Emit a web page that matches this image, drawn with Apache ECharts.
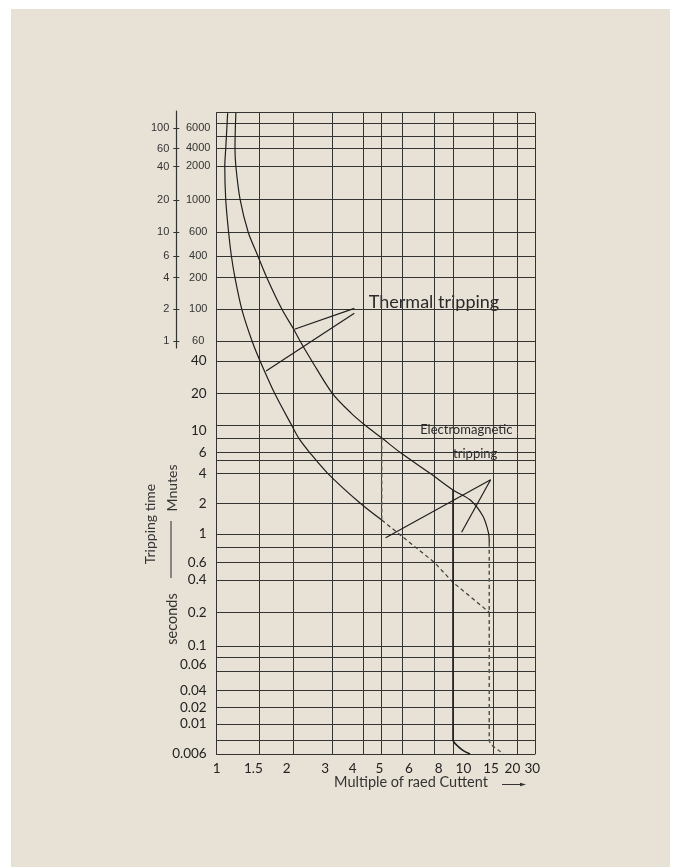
<!DOCTYPE html>
<html><head><meta charset="utf-8">
<script src="https://cdn.jsdelivr.net/npm/echarts@6.0.0/dist/echarts.min.js"></script>
<style>
html,body{margin:0;padding:0;background:#ffffff;}
#panel{position:absolute;left:11px;top:9px;width:659px;height:858px;background:#e8e2d6;}
#chart{position:absolute;left:0;top:0;width:674px;height:867px;}
</style></head><body>
<div id="panel"></div><div id="chart"></div>
<script>
// ================= DATA =================
// tick labels
const xTickLabels = [1, 1.5, 2, 3, 4, 5, 6, 8, 10, 15, 20, 30];          // multiple of rated current
const yMinuteLabels = [100, 60, 40, 20, 10, 6, 4, 2, 1];                  // minutes column
const yUpperSecLabels = [6000, 4000, 2000, 1000, 600, 400, 200, 100, 60]; // seconds column (upper)
const yLowerSecLabels = [40, 20, 10, 6, 4, 2, 1, 0.6, 0.4, 0.2, 0.1, 0.06, 0.04, 0.02, 0.01, 0.006];

// curves: [multiple of rated current, tripping time in seconds]
const thermalLow = [[1.11, 8000], [1.09, 4000], [1.08, 2000], [1.09, 1000], [1.12, 600], [1.15, 400],
  [1.19, 200], [1.27, 100], [1.40, 60], [1.51, 40], [1.71, 20], [1.98, 11], [2.13, 8.28],
  [2.37, 6], [2.86, 4], [3.89, 2], [5.0, 1.37]];
const thermalLowDashed = [[5.0, 1.37], [8, 0.6], [10, 0.38], [14.4, 0.2]];
const thermalHigh = [[1.20, 8000], [1.19, 4000], [1.20, 2000], [1.25, 1000], [1.35, 600], [1.48, 400],
  [1.60, 200], [1.82, 100], [2.02, 72], [2.15, 60], [2.43, 40], [3.0, 20], [3.58, 13.8], [4.11, 11],
  [5.04, 8.3], [5.89, 6], [7.7, 4], [10, 2.72], [11.9, 2.16], [13.5, 1.5], [14.3, 1.02], [14.4, 0.85]];
const magLimit5Dashed = [[5, 8.3], [5, 1.37]];
const magHigh15Dashed = [[14.4, 0.85], [14.4, 0.0076], [14.76, 0.007], [15.9, 0.00642], [16.9, 0.006]];
const magLow10 = [[10, 2.72], [10, 0.0076], [10.55, 0.0068], [11.09, 0.00635], [11.87, 0.006]];

// leader lines of the annotations
const leaderThermalA = [[3.68, 102], [2.03, 72.5]];
const leaderThermalB = [[3.68, 94], [1.59, 32.3]];
const leaderMagA = [[14.6, 3.45], [5.18, 0.935]];
const leaderMagB = [[14.6, 3.45], [10.9, 1.04]];

// ================= SCALE of the printed paper (layout) =================
// the paper is ruled with a distorted log scale: value -> position (0..1000 along the axis)
const xKnots = [[1, 0], [1.5, 133.8], [2, 239.7], [3, 363.2], [4, 460.6], [5, 518.4], [6, 582.2],
  [8, 683.6], [10, 742.4], [15, 869.0], [20, 945.6], [30, 1000]];
const yKnots = [[0.006, 0], [0.01, 46.8], [0.02, 72.8], [0.04, 98.7], [0.06, 138.8], [0.1, 168.4],
  [0.2, 221.0], [0.4, 271.3], [0.6, 298.9], [1, 343.1], [2, 390.9], [4, 437.7], [6, 470.5],
  [10, 504.1], [20, 562.4], [40, 612.8], [60, 644.0], [100, 693.4], [200, 742.7], [400, 776.6],
  [600, 813.5], [1000, 864.3], [2000, 916.4], [4000, 944.5], [6000, 976.6]];
const xLabelPaper = [0, 115, 220, 341, 427, 511, 604, 697, 775, 862, 929, 991.5];
const yRulePaper = [1000, 983.5, 963.7, 944.5, 916.4, 864.3, 813.5, 776.6, 742.7, 693.4, 644.0, 612.8,
  562.4, 512.6, 491.7, 470.5, 457.4, 437.7, 390.9, 343.1, 321.7, 298.9, 271.3, 221.0, 168.4, 150.8,
  128.3, 98.7, 72.8, 46.8, 20.7, 0];

function makeScale(knots) {
  const k = knots.map(([v, p]) => [Math.log10(v), p]);
  return function (v) {
    const l = Math.log10(v);
    let i = 0;
    while (i < k.length - 2 && l > k[i + 1][0]) i++;
    const [l0, p0] = k[i], [l1, p1] = k[i + 1];
    return p0 + (l - l0) / (l1 - l0) * (p1 - p0);
  };
}
const toX = makeScale(xKnots);
const toY = makeScale(yKnots);
const xRulePaper = xKnots.map(k => k[1]);
const conv = arr => arr.map(([x, y]) => [toX(x), toY(y)]);
const near = (a, b) => Math.abs(a - b) < 1e-6;

const INK = '#1e1e1e';
const RULE = '#333333';
const FONT = 'Lato';

function lineSeries(data, opts) {
  return Object.assign({
    type: 'line', xAxisIndex: 0, yAxisIndex: 0, data: conv(data), showSymbol: false, symbol: 'none',
    silent: true, animation: false, smooth: false,
    lineStyle: { color: INK, width: 1.2 }
  }, opts || {});
}

const upperPos = yUpperSecLabels.map(toY);
const lowerPos = yLowerSecLabels.map(toY);

const chart = echarts.init(document.getElementById('chart'), null, { renderer: 'canvas' });
chart.setOption({
  backgroundColor: 'transparent',
  animation: false,
  grid: [
    { left: 216.7, top: 112.7, width: 318.3, height: 641.3, containLabel: false },
    { left: 176.3, top: 111, width: 10, height: 237, containLabel: false }
  ],
  xAxis: [
    {
      type: 'value', gridIndex: 0, min: 0, max: 1000,
      axisLine: { show: true, lineStyle: { color: RULE, width: 1 } },
      axisTick: { show: false, customValues: xRulePaper },
      splitLine: { show: true, lineStyle: { color: RULE, width: 1 } },
      axisLabel: {
        customValues: xLabelPaper, margin: 8, color: '#222', fontFamily: FONT, fontSize: 13.5,
        formatter: v => { const i = xLabelPaper.findIndex(p => near(p, v)); return i >= 0 ? String(xTickLabels[i]) : ''; }
      }
    },
    { type: 'value', gridIndex: 1, min: 0, max: 1, show: false }
  ],
  yAxis: [
    {
      type: 'value', gridIndex: 0, min: 0, max: 1000, position: 'left',
      axisLine: { show: true, lineStyle: { color: RULE, width: 1 } },
      axisTick: { show: false, customValues: yRulePaper },
      splitLine: { show: true, lineStyle: { color: RULE, width: 1 } },
      axisLabel: {
        customValues: lowerPos, margin: 10, color: '#222', fontFamily: FONT, fontSize: 13.5,
        formatter: v => { const i = lowerPos.findIndex(p => near(p, v)); return i >= 0 ? String(yLowerSecLabels[i]) : ''; }
      }
    },
    {
      type: 'value', gridIndex: 0, min: 0, max: 1000, position: 'left', offset: 0,
      axisLine: { show: false }, axisTick: { show: false }, splitLine: { show: false },
      axisLabel: {
        customValues: upperPos, margin: 18.5, align: 'center', color: '#333',
        fontFamily: 'Liberation Sans', fontSize: 11,
        formatter: v => { const i = upperPos.findIndex(p => near(p, v)); return i >= 0 ? String(yUpperSecLabels[i]) : ''; }
      }
    },
    {
      type: 'value', gridIndex: 1, min: 633, max: 1003, position: 'left',
      axisLine: { show: true, lineStyle: { color: RULE, width: 1.2 } },
      axisTick: { show: true, customValues: upperPos, length: 3, lineStyle: { color: RULE, width: 1 } },
      splitLine: { show: false },
      axisLabel: {
        customValues: upperPos, margin: 7, color: '#333', fontFamily: 'Liberation Sans', fontSize: 11,
        formatter: v => { const i = upperPos.findIndex(p => near(p, v)); return i >= 0 ? String(yMinuteLabels[i]) : ''; }
      }
    },
    {
      type: 'value', gridIndex: 1, min: 633, max: 1003, position: 'left',
      axisLine: { show: false },
      axisTick: { show: true, inside: true, customValues: upperPos, length: 3, lineStyle: { color: RULE, width: 1 } },
      splitLine: { show: false }, axisLabel: { show: false }
    }
  ],
  series: [
    lineSeries(thermalLow, { smooth: 0.3 }),
    lineSeries(thermalHigh, { smooth: 0.3 }),
    lineSeries(thermalLowDashed, { lineStyle: { color: '#3a3a3a', width: 1.2, type: [4, 3] } }),
    lineSeries(magLimit5Dashed, { lineStyle: { color: '#555', width: 1.5, type: [4, 3] } }),
    lineSeries(magHigh15Dashed, { smooth: 0.3, lineStyle: { color: '#555', width: 1.5, type: [4, 3] } }),
    lineSeries(magLow10, { smooth: 0.3, lineStyle: { color: INK, width: 1.6 } }),
    lineSeries(leaderThermalA),
    lineSeries(leaderThermalB),
    lineSeries(leaderMagA),
    lineSeries(leaderMagB)
  ],
  graphic: [
    { type: 'text', x: 150, y: 524, rotation: Math.PI / 2,
      style: { text: 'Tripping time', fontFamily: FONT, fontSize: 14, fill: '#333', align: 'center', verticalAlign: 'middle' } },
    { type: 'text', x: 172, y: 488, rotation: Math.PI / 2,
      style: { text: 'Mnutes', fontFamily: FONT, fontSize: 14, fill: '#333', align: 'center', verticalAlign: 'middle' } },
    { type: 'line', shape: { x1: 171, y1: 521, x2: 171, y2: 578 }, style: { stroke: '#666', lineWidth: 1.5 } },
    { type: 'text', x: 172, y: 619, rotation: Math.PI / 2,
      style: { text: 'seconds', fontFamily: FONT, fontSize: 14.5, fill: '#333', align: 'center', verticalAlign: 'middle' } },
    { type: 'text', x: 411, y: 782.5,
      style: { text: 'Multiple of raed Cuttent', fontFamily: FONT, fontSize: 14.5, fill: '#333', align: 'center', verticalAlign: 'middle' } },
    { type: 'line', shape: { x1: 502, y1: 784.5, x2: 523, y2: 784.5 }, style: { stroke: '#333', lineWidth: 1 } },
    { type: 'polygon', shape: { points: [[520, 782.7], [526, 784.5], [520, 786.3]] }, style: { fill: '#333' } },
    { type: 'text', x: 434, y: 302,
      style: { text: 'Thermal tripping', fontFamily: FONT, fontSize: 18, fill: '#2a2a2a', align: 'center', verticalAlign: 'middle' } },
    { type: 'text', x: 466.3, y: 430,
      style: { text: 'Electromagnetic', fontFamily: FONT, fontSize: 13, fill: '#2a2a2a', align: 'center', verticalAlign: 'middle' } },
    { type: 'text', x: 475.2, y: 454.3,
      style: { text: 'tripping', fontFamily: FONT, fontSize: 13, fill: '#2a2a2a', align: 'center', verticalAlign: 'middle' } }
  ]
});
</script>
</body></html>
